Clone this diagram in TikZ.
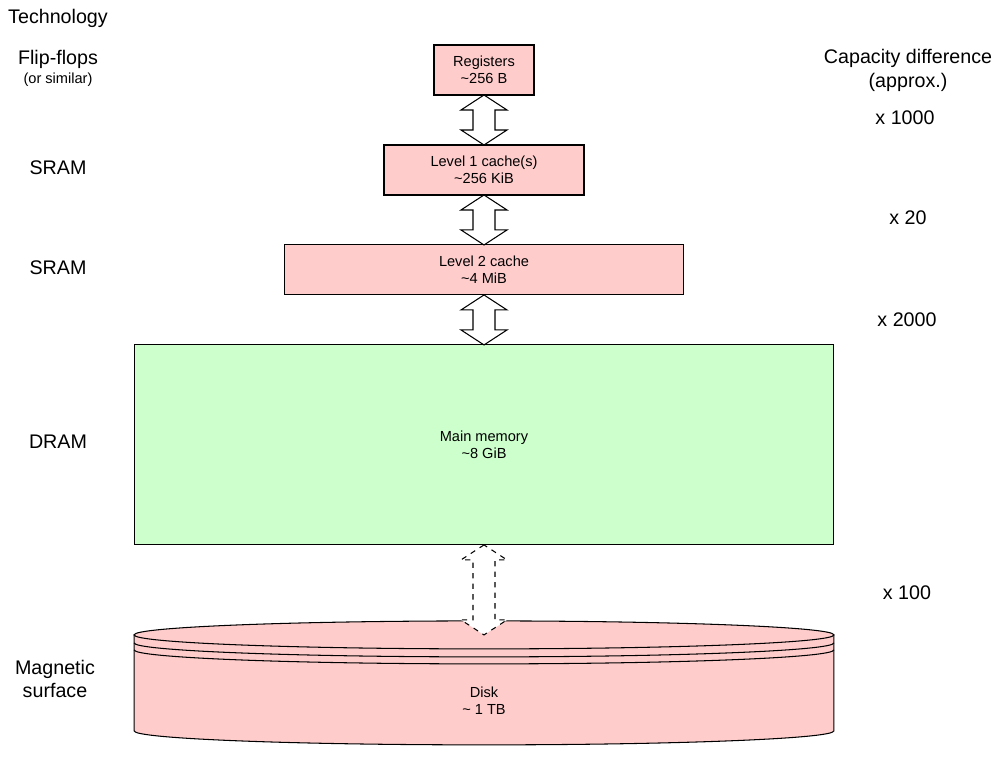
\documentclass[tikz,border=0pt]{standalone}
\usepackage{fontspec}
\setmainfont{Liberation Sans}
\usepackage{xcolor}
\usetikzlibrary{positioning,calc}

\definecolor{cachered}{HTML}{FFCCCC}
\definecolor{ramgreen}{HTML}{CCFFCC}

\newcommand{\boxfont}{\fontsize{8.3}{9.6}\selectfont}
\newcommand{\sidefont}{\fontsize{11.2}{13.6}\selectfont}

% two-headed fat arrow between the bottom of #2 and the top of #3
\newcommand{\buslink}[3][]{%
  \draw[fatarrow,#1] (#2.south) -- ++(-23,15) -- ++(12,0) -- ($(#3.north)+(-11,-15)$)
    -- ++(-12,0) -- (#3.north) -- ++(23,-15) -- ++(-12,0) -- ($(#2.south)+(11,15)$)
    -- ++(12,0) -- cycle;}

\begin{document}
\begin{tikzpicture}[x=0.02cm, y=-0.02cm,
    block/.style={rectangle, draw, line width=0.6pt, fill=cachered, align=center, font=\boxfont, minimum height=1cm, inner sep=0pt, outer sep=0pt},
    fatarrow/.style={draw, fill=white, line width=0.6pt, line join=miter},
    side/.style={font=\sidefont, align=center, inner sep=0pt}]

    \useasboundingbox (0,0) rectangle (1000,757);

    % memory levels
    \node[block, minimum width=2cm] (reg) at (484,70) {Registers\\\textasciitilde256 B};
    \node[block, minimum width=4cm, below=1cm of reg] (lone) {Level 1 cache(s)\\\textasciitilde256 KiB};
    \node[block, minimum width=8cm, below=1cm of lone] (ltwo) {Level 2 cache\\\textasciitilde4 MiB};
    \node[block, minimum width=14cm, minimum height=4cm, fill=ramgreen, below=1cm of ltwo] (mem) {Main memory\\\textasciitilde8 GiB};
    \node[minimum width=14cm, minimum height=1.92cm, inner sep=0pt, outer sep=0pt, below=1.8cm of mem] (disk) {};

    % disk cylinder
    \fill[cachered] (disk.north west) -- (disk.south west) arc[start angle=180, end angle=360, x radius=7cm, y radius=0.28cm]
        -- (disk.north east) arc[start angle=0, end angle=180, x radius=7cm, y radius=0.28cm] -- cycle;
    \draw[line width=0.6pt] (disk.north) ellipse[x radius=7cm, y radius=0.28cm];
    \draw[line width=0.6pt] (disk.north west) -- (disk.south west) arc[start angle=180, end angle=360, x radius=7cm, y radius=0.28cm] -- (disk.north east);
    \foreach \d in {0.16,0.3}
        \draw[line width=0.6pt] ([yshift=-\d cm]disk.north west) arc[start angle=180, end angle=360, x radius=7cm, y radius=0.28cm];
    \node[font=\boxfont, align=center, inner sep=0pt] (disktxt) at ([yshift=-0.36cm]disk.center) {Disk\\\textasciitilde{} 1 TB};

    % links
    \buslink{reg}{lone}
    \buslink{lone}{ltwo}
    \buslink{ltwo}{mem}
    \buslink[dashed]{mem}{disk}

    % technology column
    \node[side] (tech) at (58,18) {Technology};
    \node[side] (ff) at (58,59) {Flip-flops};
    \node[font=\boxfont, inner sep=0pt] (ffnote) at (58,80) {(or similar)};
    \node[side] (sramone) at (58,168) {SRAM};
    \node[side] (sramtwo) at (58,268) {SRAM};
    \node[side] (dram) at (58,442) {DRAM};
    \node[side] (magn) at (55,679) {Magnetic\\surface};

    % capacity column
    \node[side] (capdiff) at (908,70) {Capacity difference\\(approx.)};
    \node[side] (rone) at (905,118) {x 1000};
    \node[side] (rtwo) at (908,218) {x 20};
    \node[side] (rthree) at (907,320) {x 2000};
    \node[side] (rfour) at (907,593) {x 100};
\end{tikzpicture}
\end{document}
